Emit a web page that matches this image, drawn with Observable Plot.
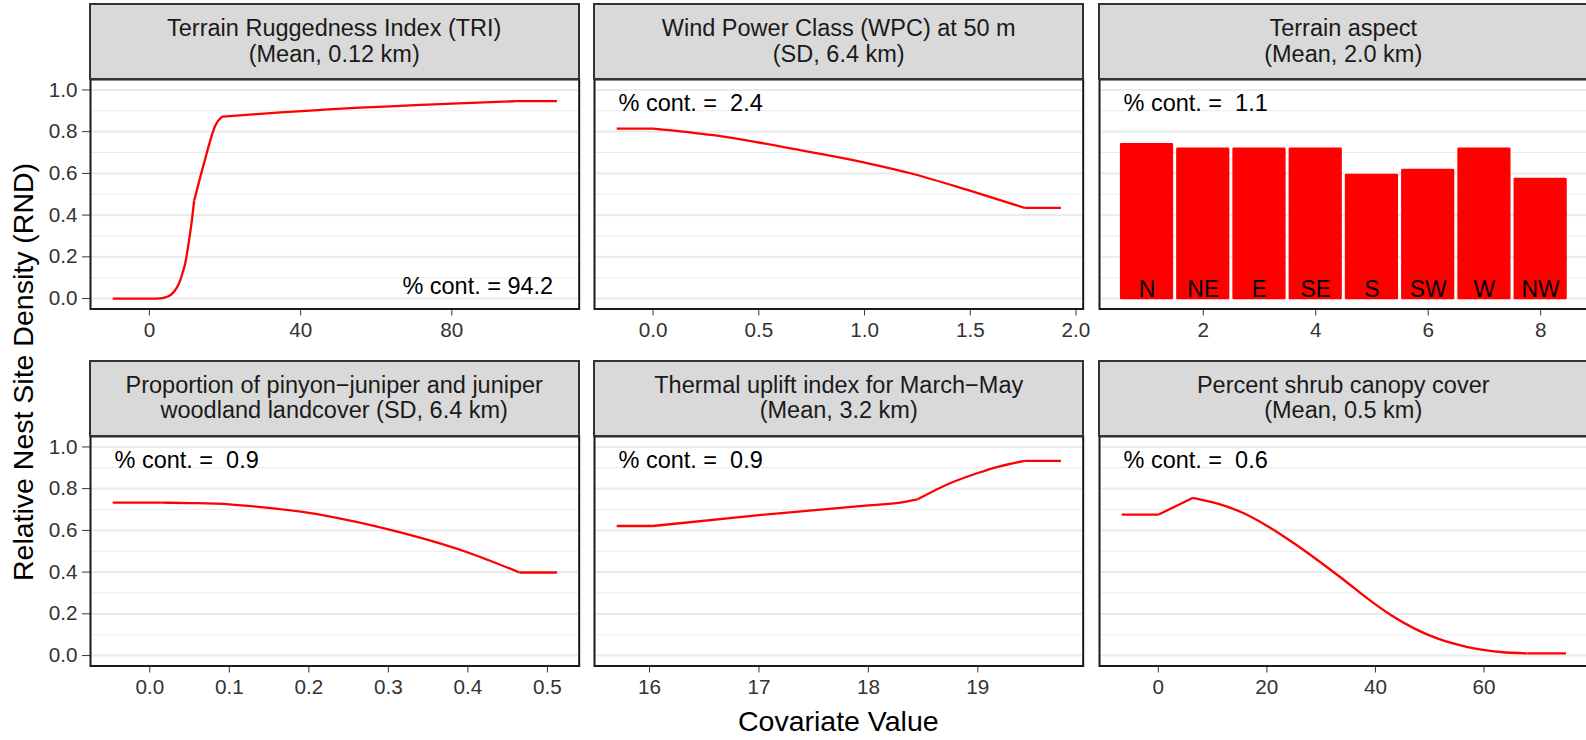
<!DOCTYPE html>
<html><head><meta charset="utf-8">
<script src="https://cdn.jsdelivr.net/npm/d3@7"></script>
<script src="https://cdn.jsdelivr.net/npm/@observablehq/plot@0.6"></script>
<style>
html,body{margin:0;padding:0;background:#fff;overflow:hidden}
#fig{position:relative;width:1586px;height:740px;overflow:hidden;font-family:"Liberation Sans",Arial,Helvetica,sans-serif;background:#fff}
.strip{position:absolute;box-sizing:border-box;background:#D9D9D9;border:2px solid #333;display:flex;flex-direction:column;justify-content:center;align-items:center;color:#1A1A1A;font-size:23.5px;line-height:25.7px;text-align:center;white-space:nowrap}
.panel{position:absolute}
.panel svg{max-width:none;overflow:visible;background:transparent}
.title{position:absolute;color:#000;font-size:28.5px;line-height:1;white-space:nowrap}
</style></head><body><div id="fig"></div>
<script>
// ---------- data ----------
const stripTitles = [
  ["Terrain Ruggedness Index (TRI)", "(Mean, 0.12 km)"],
  ["Wind Power Class (WPC) at 50 m", "(SD, 6.4 km)"],
  ["Terrain aspect", "(Mean, 2.0 km)"],
  ["Proportion of pinyon\u2212juniper and juniper", "woodland landcover (SD, 6.4 km)"],
  ["Thermal uplift index for March\u2212May", "(Mean, 3.2 km)"],
  ["Percent shrub canopy cover", "(Mean, 0.5 km)"]
];
const pctCont = [94.2, 2.4, 1.1, 0.9, 0.9, 0.6];

const triX = [-9.7, 2.0, 4.0, 5.05, 6.1, 6.8, 7.5, 8.14, 8.8, 9.46, 10.35, 11.23, 11.84, 13.43, 14.75, 16.07, 17.4, 19.2, 34.6, 41.5, 71.8, 80, 97, 107.8];
const triY = [0, 0, 0.005, 0.011, 0.025, 0.04, 0.06, 0.087, 0.125, 0.167, 0.263, 0.374, 0.47, 0.581, 0.669, 0.756, 0.828, 0.872, 0.892, 0.9, 0.928, 0.934, 0.946, 0.946];
const triKinks = [11.84, 19.2, 97];

const wpcX = [-0.172, 0, 0.285, 0.5, 0.758, 1.0, 1.231, 1.498, 1.757, 1.929];
const wpcY = [0.815, 0.815, 0.783, 0.748, 0.70, 0.652, 0.597, 0.517, 0.435, 0.435];
const wpcKinks = [0, 1.757];

const aspectLabels = ["N", "NE", "E", "SE", "S", "SW", "W", "NW"];
const aspectX = [1, 2, 3, 4, 5, 6, 7, 8];
const aspectY = [0.737, 0.715, 0.715, 0.715, 0.590, 0.614, 0.715, 0.571];

const pjX = [-0.0466, 0.0145, 0.05, 0.1, 0.149, 0.2, 0.3, 0.351, 0.4, 0.465, 0.512];
const pjY = [0.733, 0.733, 0.731, 0.725, 0.708, 0.684, 0.605, 0.553, 0.494, 0.398, 0.398];
const pjKinks = [0.0145, 0.465];

const thermX = [15.70, 16.03, 17.0, 18.0, 18.29, 18.45, 18.72, 19.0, 19.2, 19.43, 19.76];
const thermY = [0.621, 0.621, 0.673, 0.72, 0.733, 0.749, 0.82, 0.875, 0.907, 0.933, 0.933];
const thermKinks = [16.03, 18.45, 19.43];

const shrubX = [-6.74, 0.07, 6.4, 10.94, 15.85, 20.15, 25.05, 29.36, 34.26, 38.57, 42.9, 47.2, 51.5, 57.0, 63.1, 68.05, 75.1];
const shrubY = [0.676, 0.676, 0.756, 0.728, 0.681, 0.62, 0.537, 0.457, 0.361, 0.273, 0.193, 0.129, 0.081, 0.041, 0.017, 0.01, 0.01];
const shrubKinks = [0.07, 6.4, 68.05];

const xTicks = [[0, 40, 80], [0, 0.5, 1, 1.5, 2], [2, 4, 6, 8], [0, 0.1, 0.2, 0.3, 0.4, 0.5], [16, 17, 18, 19], [0, 20, 40, 60]];
const xTickFmt = [",d", ".1f", ",d", ".1f", ",d", ",d"];
const yMajor = [0, 0.2, 0.4, 0.6, 0.8, 1.0];
const yMinor = [0.1, 0.3, 0.5, 0.7, 0.9];
const yTitle = "Relative Nest Site Density (RND)";
const xTitle = "Covariate Value";

// ---------- layout ----------
const FONT = '"Liberation Sans",Arial,Helvetica,sans-serif';
const colLeft = [89.9, 594.4, 1098.9];
const panelW = 488.7;
const stripTop = [4, 360.7];
const panelTop = [79, 436];
const panelH = 229.5;
const barWidth = 0.9;

// split a series at its corner points so the smooth parts can be drawn with a smooth curve
function segmented(xs, ys, kinks) {
  const bounds = [-Infinity, ...kinks, Infinity];
  const out = [];
  for (let j = 0; j < bounds.length - 1; j++) {
    xs.forEach((x, i) => {
      if (x >= bounds[j] && x <= bounds[j + 1]) out.push({x, y: ys[i], seg: j});
    });
  }
  return out;
}
const series = [
  segmented(triX, triY, triKinks),
  segmented(wpcX, wpcY, wpcKinks),
  null,
  segmented(pjX, pjY, pjKinks),
  segmented(thermX, thermY, thermKinks),
  segmented(shrubX, shrubY, shrubKinks)
];
const bars = aspectX.map((x, i) => ({x, y: aspectY[i], label: aspectLabels[i]}));

function expand([a, b]) { const d = (b - a) * 0.05; return [a - d, b + d]; }

const fig = document.getElementById("fig");

for (let i = 0; i < 6; i++) {
  const r = Math.floor(i / 3), c = i % 3;
  const ML = 80, MR = 4, MT = 4, MB = 46;
  let domain;
  const marks = [
    Plot.ruleY(yMinor, {stroke: "#EBEBEB", strokeWidth: 1.1}),
    Plot.ruleY(yMajor, {stroke: "#EBEBEB", strokeWidth: 2.1})
  ];
  if (series[i]) {
    domain = expand(d3.extent(series[i], d => d.x));
    marks.push(Plot.line(series[i], {x: "x", y: "y", z: "seg", curve: "monotone-x",
      stroke: "#FF0000", strokeWidth: 2.3, strokeLinecap: "butt"}));
  } else {
    domain = expand([d3.min(bars, d => d.x) - barWidth / 2, d3.max(bars, d => d.x) + barWidth / 2]);
    marks.push(Plot.rect(bars, {x1: d => d.x - barWidth / 2, x2: d => d.x + barWidth / 2, y1: 0, y2: "y",
      fill: "#FF0000", stroke: "#FF0000", strokeWidth: 2.6, strokeLinejoin: "round"}));
    marks.push(Plot.text(bars, {x: "x", y: 0, text: "label", lineAnchor: "middle", dy: -8.7,
      fontSize: 23, fill: "#000"}));
  }
  const label = "% cont. = " + pctCont[i].toFixed(1).padStart(4, "\u00a0");
  if (i === 0) {
    marks.push(Plot.text([label], {text: d => d, frameAnchor: "bottom-right", textAnchor: "end",
      lineAnchor: "middle", dx: -26, dy: -22.5, fontSize: 23.5, fill: "#000"}));
  } else {
    marks.push(Plot.text([label], {text: d => d, frameAnchor: "top-left", textAnchor: "start",
      lineAnchor: "middle", dx: 24, dy: 24, fontSize: 23.5, fill: "#000"}));
  }
  marks.push(Plot.frame({stroke: "#1a1a1a", strokeWidth: 2}));

  const svg = Plot.plot({
    width: ML + panelW + MR,
    height: MT + panelH + MB,
    marginLeft: ML, marginRight: MR, marginTop: MT, marginBottom: MB,
    style: {fontFamily: FONT, fontSize: "20.7px", color: "#333", background: "transparent", overflow: "visible"},
    x: {domain, ticks: xTicks[i], tickFormat: d3.format(xTickFmt[i]), tickSize: 7, tickPadding: 6, label: null},
    y: c === 0
      ? {domain: [-0.05, 1.05], ticks: yMajor, tickFormat: d3.format(".1f"), tickSize: 8, tickPadding: 5, label: null}
      : {domain: [-0.05, 1.05], axis: null},
    marks
  });
  const wrap = document.createElement("div");
  wrap.className = "panel";
  wrap.style.left = (colLeft[c] - ML) + "px";
  wrap.style.top = (panelTop[r] - MT) + "px";
  wrap.appendChild(svg);
  fig.appendChild(wrap);

  const strip = document.createElement("div");
  strip.className = "strip";
  strip.style.left = (colLeft[c] - 1) + "px";
  strip.style.top = (stripTop[r] - 1) + "px";
  strip.style.width = (panelW + 2) + "px";
  strip.style.height = (panelTop[r] - stripTop[r] + 2) + "px";
  stripTitles[i].forEach(t => {
    const s = document.createElement("div");
    s.textContent = t;
    strip.appendChild(s);
  });
  fig.appendChild(strip);
}

// axis titles
const yt = document.createElement("div");
yt.className = "title";
yt.textContent = yTitle;
yt.style.left = "23.1px";
yt.style.top = "372px";
yt.style.transform = "translate(-50%,-50%) rotate(-90deg)";
fig.appendChild(yt);

const xt = document.createElement("div");
xt.className = "title";
xt.textContent = xTitle;
xt.style.left = "838.3px";
xt.style.top = "706.6px";
xt.style.transform = "translateX(-50%)";
fig.appendChild(xt);
</script></body></html>
